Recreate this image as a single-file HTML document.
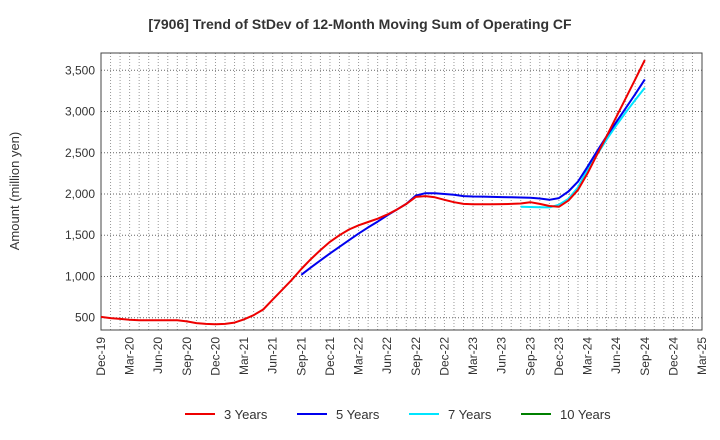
<!DOCTYPE html>
<html><head><meta charset="utf-8"><style>
body{margin:0;background:#fff;font-family:"Liberation Sans",sans-serif}
svg{display:block}
</style></head><body>
<svg id="chart" width="720" height="440" xmlns="http://www.w3.org/2000/svg">
<text x="360" y="29" text-anchor="middle" font-size="14" font-weight="bold" fill="#333">[7906]  Trend of StDev of 12-Month Moving Sum of Operating CF</text>
<text transform="translate(19,191) rotate(-90)" text-anchor="middle" font-size="13" fill="#333">Amount (million yen)</text>
</svg>
<script>
const tickLabels=["Dec-19","Mar-20","Jun-20","Sep-20","Dec-20","Mar-21","Jun-21","Sep-21","Dec-21","Mar-22","Jun-22","Sep-22","Dec-22","Mar-23","Jun-23","Sep-23","Dec-23","Mar-24","Jun-24","Sep-24","Dec-24","Mar-25"];
const yTicks=[500,1000,1500,2000,2500,3000,3500];
// monthly values starting Dec-19 (index 0)
const series3=[510,495,485,475,470,470,470,470,468,455,435,425,420,425,440,480,530,600,720,840,960,1090,1210,1320,1420,1500,1570,1620,1660,1700,1750,1810,1880,1965,1975,1960,1930,1900,1880,1875,1875,1875,1878,1880,1885,1900,1880,1855,1845,1920,2050,2250,2480,2700,2930,3160,3390,3624];
const series5Start=21;
const series5=[1020,1110,1195,1280,1360,1440,1520,1595,1665,1740,1810,1880,1980,2010,2010,2000,1990,1975,1970,1968,1965,1962,1960,1958,1955,1945,1930,1950,2030,2150,2330,2520,2700,2870,3040,3210,3390];
const series7Start=44;
const series7=[1845,1842,1840,1838,1870,1940,2080,2300,2480,2660,2830,2990,3140,3289];
const series10=[];
const svg=document.getElementById('chart');
const NS='http://www.w3.org/2000/svg';
const L=101,R=702,T=53,B=330;
const monthsTotal=63;
function x(i){return L+(R-L)*i/monthsTotal;}
function y(v){return 317.7-(v-500)*(247.4/3000);}
function mk(tag,attrs){const e=document.createElementNS(NS,tag);for(const k in attrs)e.setAttribute(k,attrs[k]);svg.appendChild(e);return e;}
for(let m=1;m<monthsTotal;m++){const g=mk('line',{x1:x(m),x2:x(m),y1:T,y2:B,stroke:'#999','stroke-dasharray':'1,2','stroke-width':1});

}
yTicks.forEach(v=>{const g=mk('line',{x1:L,x2:R,y1:y(v),y2:y(v),stroke:'#666','stroke-dasharray':'1,2','stroke-width':1});


const t=mk('text',{x:L-6,y:y(v)+4,'text-anchor':'end','font-size':12,fill:'#333'});t.textContent=v.toLocaleString('en-US');

});
tickLabels.forEach((s,i)=>{const xx=x(i*3);const t=mk('text',{transform:`translate(${xx+4},${B+7}) rotate(-90)`,'text-anchor':'end','font-size':12,fill:'#333'});t.textContent=s;

});
const frame=mk('rect',{x:L,y:T,width:R-L,height:B-T,fill:'none',stroke:'#444','stroke-width':1});


function line(data,start,color,name){if(!data.length)return;const p=data.map((v,i)=>x(start+i).toFixed(1)+','+y(v).toFixed(1)).join(' ');
const e=mk('polyline',{points:p,fill:'none',stroke:color,'stroke-width':2,'stroke-linejoin':'round'});

}
line(series7,series7Start,'#00e5ff','series-7-years');
line(series5,series5Start,'#0000ee','series-5-years');
line(series3,0,'#ee0000','series-3-years');
line(series10,0,'#008000','series-10-years');
const legend=[["3 Years","#ee0000",185],["5 Years","#0000ee",297],["7 Years","#00e5ff",409],["10 Years","#008000",521]];
legend.forEach(([lab,c,lx])=>{const l=mk('line',{x1:lx,x2:lx+30,y1:414,y2:414,stroke:c,'stroke-width':2});


const t=mk('text',{x:lx+39,y:419,'font-size':13,fill:'#333'});t.textContent=lab;

});
</script>
</body></html>
